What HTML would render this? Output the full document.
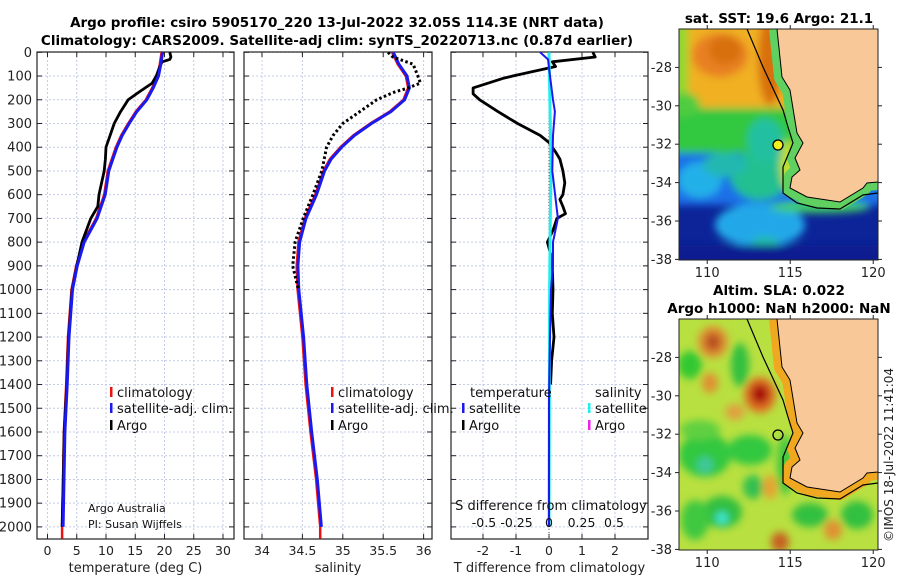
<!DOCTYPE html>
<html><head><meta charset="utf-8">
<style>
html,body{margin:0;padding:0;background:#fff;}
svg{display:block;font-family:"DejaVu Sans","Liberation Sans",sans-serif;}
</style></head>
<body>
<svg id="fig" width="900" height="580" viewBox="0 0 900 580" xmlns="http://www.w3.org/2000/svg">
<defs>
  <filter id="blur4" x="-20%" y="-20%" width="140%" height="140%"><feGaussianBlur stdDeviation="4"/></filter>
  <clipPath id="clipMap1"><rect x="679" y="29" width="199" height="231"/></clipPath>
  <clipPath id="clipMap2"><rect x="679" y="319" width="199" height="231"/></clipPath>
  <clipPath id="clipP1"><rect x="37" y="52" width="197" height="487"/></clipPath>
  <clipPath id="clipP2"><rect x="244" y="52" width="188" height="487"/></clipPath>
  <clipPath id="clipP3"><rect x="451" y="52" width="197" height="487"/></clipPath>
</defs>
<g font-weight="bold" font-size="13.5" text-anchor="middle" fill="#000">
  <text x="337" y="27">Argo profile: csiro 5905170_220 13-Jul-2022 32.05S 114.3E (NRT data)</text>
  <text x="337" y="45">Climatology: CARS2009. Satellite-adj clim: synTS_20220713.nc (0.87d earlier)</text>
  <text x="779" y="23">sat. SST: 19.6 Argo: 21.1</text>
  <text x="779" y="295">Altim. SLA: 0.022</text>
  <text x="779" y="313">Argo h1000: NaN h2000: NaN</text>
</g>
<g id="panels"></g>
<g id="maps"></g>
<text x="0" y="0" transform="translate(893,455) rotate(-90)" text-anchor="middle" font-size="12" fill="#222">©IMOS 18-Jul-2022 11:41:04</text>
</svg>
<script>
// ---------- data ----------
const depthTicks = [0,100,200,300,400,500,600,700,800,900,1000,1100,1200,1300,1400,1500,1600,1700,1800,1900,2000];
const tempTicks = [0,5,10,15,20,25,30];
const salTicks = [34,34.5,35,35.5,36];
const tdiffTicks = [-2,-1,0,1,2];
const sdiffTicks = [-0.5,-0.25,0,0.25,0.5];

const climDepth = [0,50,100,150,200,250,300,350,400,450,500,600,700,800,900,1000,1200,1400,1600,1800,2000,2050];
const climTemp  = [19.5,19.2,18.8,17.9,16.8,15.1,13.8,12.6,11.7,11.0,10.3,9.7,8.3,6.1,4.9,4.1,3.5,3.2,2.8,2.65,2.5,2.5];
const climSal   = [35.61,35.68,35.78,35.81,35.75,35.58,35.34,35.13,34.97,34.84,34.76,34.66,34.53,34.45,34.43,34.44,34.50,34.54,34.60,34.67,34.72,34.72];

const argoDepth = [0,20,30,40,60,100,130,150,170,200,250,300,350,400,450,500,600,650,700,800,900,1000,1200,1400,1600,1800,2000];
const argoTemp  = [20.9,21.1,20.9,19.6,19.2,18.6,17.9,16.7,15.5,13.8,12.5,11.4,10.7,10.0,9.9,9.7,8.8,8.6,7.4,5.9,5.0,4.2,3.6,3.3,2.85,2.7,2.5];

const argoSalDepth = [0,20,50,100,130,150,170,200,250,300,350,400,500,600,700,800,900,1000];
const argoSal      = [35.56,35.62,35.87,35.93,35.96,35.81,35.62,35.42,35.21,35.00,34.88,34.80,34.74,34.63,34.51,34.41,34.38,34.45];

const tdiffArgoDepth = [0,20,40,60,100,110,150,175,200,250,300,350,380,420,450,500,550,600,620,650,680,700,750,800,850,900,1000,1100,1200,1300,1400];
const tdiffArgo      = [1.33,1.4,0.1,0.2,-1.1,-1.4,-2.3,-2.3,-2.1,-1.55,-0.95,-0.27,0.0,0.2,0.33,0.42,0.48,0.42,0.33,0.42,0.5,0.24,0.12,-0.05,0.05,0.1,0.12,0.1,0.15,0.08,0.05];
const tdiffSatDepth = [0,30,100,200,250,350,500,700,800,900,1000,1200,1450,2000];
const tdiffSat      = [-0.27,-0.03,0.03,0.12,0.18,0.12,0.1,0.27,0.12,0.12,0.06,0.03,0.0,0.0];
const sdiffSatDepth = [0,300,500,700,1000,2000];
const sdiffSat      = [0,0.01,0.015,0.01,0.005,0];

// ---------- axes ----------
const Y0 = 52.3, KY = 0.2373, YB = 539;
function py(d){ return Y0 + d*KY; }
function axisT(v){ return 47.5 + v*5.85; }
function axisS(v){ return 262 + (v-34)*80.8; }
function axisTD(v){ return 549 + v*33; }
function axisSD(v){ return 549 + v*130; }

const NS = "http://www.w3.org/2000/svg";
function mk(tag, attrs, parent){
  const e = document.createElementNS(NS, tag);
  for (const k in attrs) e.setAttribute(k, attrs[k]);
  parent.appendChild(e); return e;
}
const panels = document.getElementById('panels');

function drawFrame(name, x0, x1, xticks, fx, xlabel, showDepthLabels){
  const g = mk('g', {}, panels);
  
  
  xticks.forEach(v => {
    const x = fx(v);
    const l = mk('line', {x1:x, x2:x, y1:52, y2:YB, stroke:'#c4cce6', 'stroke-width':1, 'stroke-dasharray':'2 2'}, g);
    
    
  });
  depthTicks.forEach(d => {
    const y = py(d);
    const l = mk('line', {x1:x0, x2:x1, y1:y, y2:y, stroke:'#c4cce6', 'stroke-width':1, 'stroke-dasharray':'2 2'}, g);
    
    
    mk('line', {x1:x0, x2:x0+5, y1:y, y2:y, stroke:'#222'}, g);
    mk('line', {x1:x1-5, x2:x1, y1:y, y2:y, stroke:'#222'}, g);
    if (showDepthLabels){
      const t = mk('text', {x:x0-5, y:y+4.5, 'text-anchor':'end', 'font-size':13, fill:'#222'}, g);
      t.textContent = d;
      
      
    }
  });
  xticks.forEach(v => {
    const x = fx(v);
    mk('line', {x1:x, x2:x, y1:YB, y2:YB-5, stroke:'#222'}, g);
    mk('line', {x1:x, x2:x, y1:52, y2:57, stroke:'#222'}, g);
    const t = mk('text', {x:x, y:555, 'text-anchor':'middle', 'font-size':12.5, fill:'#222'}, g);
    t.textContent = v;
    
    
  });
  const f = mk('rect', {x:x0, y:52, width:x1-x0, height:YB-52, fill:'none', stroke:'#222', 'stroke-width':1.2}, g);
  
  
  const xl = mk('text', {x:(x0+x1)/2, y:572, 'text-anchor':'middle', 'font-size':13, fill:'#222'}, g);
  xl.textContent = xlabel;
  
  
  return g;
}

function line(g, clip, depths, vals, fx, color, w, name, dash){
  const pts = depths.map((d,i) => fx(vals[i]).toFixed(1) + ',' + py(d).toFixed(1)).join(' ');
  const a = {points:pts, fill:'none', stroke:color, 'stroke-width':w, 'stroke-linejoin':'round', 'clip-path':'url(#'+clip+')'};
  if (dash) a['stroke-dasharray'] = dash;
  const p = mk('polyline', a, g);
  
  
}

function legend(g, x, y, color, label, name){
  mk('rect', {x:x, y:y-10, width:2.5, height:10, fill:color}, g);
  const t = mk('text', {x:x+7, y:y, 'font-size':13, fill:'#111'}, g);
  t.textContent = label;
  
  
}

// Panel 1
const g1 = drawFrame('temperature-panel', 37, 234, tempTicks, axisT, 'temperature (deg C)', true);
line(g1, 'clipP1', climDepth, climTemp, axisT, '#ee1111', 2.5, 'temp-climatology-line');
line(g1, 'clipP1', argoDepth, argoTemp, axisT, '#000', 2.8, 'temp-argo-line');
line(g1, 'clipP1', climDepth.slice(0,-1), climTemp.slice(0,-1), v=>axisT(v)+1, '#1a1aee', 3, 'temp-satellite-adj-line');
legend(g1, 110, 397, '#ee1111', 'climatology', 'legend-climatology');
legend(g1, 110, 413, '#1a1aee', 'satellite-adj. clim.', 'legend-satellite-adj');
legend(g1, 110, 430, '#000', 'Argo', 'legend-argo');
[['Argo Australia',512],['PI: Susan Wijffels',528]].forEach(([s,y])=>{
  const t = mk('text', {x:88, y:y, 'font-size':11, fill:'#111'}, g1);
  t.textContent = s;
  
  
});

// Panel 2
const g2 = drawFrame('salinity-panel', 244, 432, salTicks, axisS, 'salinity', false);
line(g2, 'clipP2', climDepth, climSal, axisS, '#ee1111', 2.5, 'sal-climatology-line');
line(g2, 'clipP2', climDepth.slice(0,-1), climSal.slice(0,-1), v=>axisS(v)+1.2, '#1a1aee', 3, 'sal-satellite-adj-line');
line(g2, 'clipP2', argoSalDepth, argoSal, axisS, '#000', 3, 'sal-argo-line', '2.5 2.5');
legend(g2, 331, 397, '#ee1111', 'climatology', 'legend-climatology');
legend(g2, 331, 413, '#1a1aee', 'satellite-adj. clim.', 'legend-satellite-adj');
legend(g2, 331, 430, '#000', 'Argo', 'legend-argo');

// Panel 3
const g3 = drawFrame('difference-panel', 451, 648, tdiffTicks, axisTD, 'T difference from climatology', false);
mk('line', {x1:549, x2:549, y1:52, y2:YB, stroke:'#555', 'stroke-width':1, 'stroke-dasharray':'1 2'}, g3);
line(g3, 'clipP3', tdiffArgoDepth, tdiffArgo, axisTD, '#000', 2.8, 'tdiff-argo-line');
line(g3, 'clipP3', sdiffSatDepth, sdiffSat, axisSD, '#22eeee', 3, 'sdiff-satellite-line');
line(g3, 'clipP3', tdiffSatDepth, tdiffSat, axisTD, '#1a1aee', 2, 'tdiff-satellite-line');
const lt = mk('text', {x:470, y:397, 'font-size':13, fill:'#111'}, g3); lt.textContent = 'temperature';


const ls = mk('text', {x:595, y:397, 'font-size':13, fill:'#111'}, g3); ls.textContent = 'salinity';


legend(g3, 462, 413, '#1a1aee', 'satellite', 'legend-temp-satellite');
legend(g3, 462, 430, '#000', 'Argo', 'legend-temp-argo');
legend(g3, 588, 413, '#22eeee', 'satellite', 'legend-sal-satellite');
legend(g3, 588, 430, '#ee22ee', 'Argo', 'legend-sal-argo');
const sl = mk('text', {x:551, y:510, 'text-anchor':'middle', 'font-size':13, fill:'#111'}, g3);
sl.textContent = 'S difference from climatology';


sdiffTicks.forEach(v => {
  const t = mk('text', {x:axisSD(v), y:527, 'text-anchor':'middle', 'font-size':12.5, fill:'#111'}, g3);
  t.textContent = v;
  
  
});

// ---------- maps ----------
const maps = document.getElementById('maps');
const lonTicks = [110,115,120];
const latTicks = [-28,-30,-32,-34,-36,-38];
function mx(lon){ return 679 + (lon-108.3)*16.6; }
function my(lat, top){ return top + (-26 - lat)*19.2; }

const coast = [[777,29],[782,77],[790,90],[797,133],[803,143],[795,158],[800,170],[792,177],[790,188],[807,197],[840,202],[863,188],[867,183],[878,182]];
const iso = [[747,29],[763,67],[783,110],[788,127],[793,143],[783,167],[783,193],[797,203],[817,208],[840,209],[863,195],[878,193]];

function pts(arr, dy){ return arr.map(p=>p[0]+','+(p[1]+dy)).join(' '); }

function drawMap(name, top, clip, blobs, base, bandColor){
  const g = mk('g', {}, maps);
  
  
  const dy = top - 29;
  const inner = mk('g', {'clip-path':'url(#'+clip+')'}, g);
  mk('rect', {x:679, y:top, width:199, height:231, fill:base}, inner);
  const bg = mk('g', {filter:'url(#blur4)'}, inner);
  blobs.forEach(b => {
    if (b[0]==='r') mk('rect', {x:b[1], y:b[2]+dy, width:b[3], height:b[4], fill:b[5]}, bg);
    else mk('ellipse', {cx:b[1], cy:b[2]+dy, rx:b[3], ry:b[4], fill:b[5]}, bg);
  });
  mk('polyline', {points: pts(coast,dy), fill:'none', stroke:bandColor, 'stroke-width':16, 'stroke-linejoin':'round'}, inner);
  const lp = mk('polygon', {points: pts(coast,dy) + ' 878,'+top+' 777,'+top, fill:'#f8c898', stroke:'#000', 'stroke-width':1}, inner);
  
  
  const ib = mk('polyline', {points: pts(iso,dy), fill:'none', stroke:'#000', 'stroke-width':1.2}, inner);
  
  
  const c = mk('circle', {cx:778, cy:145+dy, r:5, fill: top===29?'#f0f020':'none', stroke:'#000', 'stroke-width':1.3}, inner);
  
  
  mk('rect', {x:679, y:top, width:199, height:231, fill:'none', stroke:'#222', 'stroke-width':1}, g);
  latTicks.forEach(lat => {
    const y = my(lat, top);
    mk('line', {x1:679, x2:675, y1:y, y2:y, stroke:'#222'}, g);
    mk('line', {x1:878, x2:882, y1:y, y2:y, stroke:'#222'}, g);
    const t = mk('text', {x:672, y:y+4.5, 'text-anchor':'end', 'font-size':13, fill:'#222'}, g);
    t.textContent = lat;
    
    
  });
  lonTicks.forEach(lon => {
    const x = mx(lon);
    mk('line', {x1:x, x2:x, y1:top+231, y2:top+235, stroke:'#222'}, g);
    mk('line', {x1:x, x2:x, y1:top, y2:top-4, stroke:'#222'}, g);
    const t = mk('text', {x:x, y:top+248, 'text-anchor':'middle', 'font-size':13, fill:'#222'}, g);
    t.textContent = lon;
    
    
  });
}

const sstBlobs = [
  ['r',660,150,240,55,'#1a70e8'],
  ['e',760,225,45,22,'#20a8e8'],
  ['e',700,180,22,18,'#22b0e8'],
  ['e',760,175,30,25,'#20c090'],
  ['e',725,165,22,12,'#20b8b0'],
  ['e',765,245,14,8,'#20c0a0'],
  ['r',660,105,140,48,'#30c840'],
  ['e',765,140,18,22,'#20c0a0'],
  ['e',788,165,8,25,'#c0e020'],
  ['r',660,10,140,98,'#f0b020'],
  ['r',660,10,28,100,'#90d830'],
  ['e',685,105,15,12,'#50cc40'],
  ['e',720,55,28,22,'#e88020'],
  ['e',725,50,16,14,'#d87010'],
  ['e',770,60,12,45,'#d87010'],
  ['e',820,207,50,6,'#40d060'],
  ['r',660,245,240,30,'#0c1e90']
];
drawMap('sst-map', 29, 'clipMap1', sstBlobs, '#0c2498', '#60d060');

const slaBlobs = [
  ['e',690,75,12,14,'#30c830'],
  ['e',740,75,9,22,'#30c040'],
  ['e',713,52,15,16,'#e09030'],
  ['e',713,52,8,9,'#b85020'],
  ['e',710,93,8,10,'#e09030'],
  ['e',760,105,16,18,'#e07020'],
  ['e',760,104,9,10,'#a81010'],
  ['e',735,122,10,8,'#e0a040'],
  ['e',705,165,26,22,'#30c840'],
  ['e',750,160,22,15,'#30c840'],
  ['e',700,140,20,10,'#60d040'],
  ['e',705,175,8,8,'#40c8a0'],
  ['e',753,197,10,12,'#30c050'],
  ['e',722,222,20,16,'#30c040'],
  ['e',722,228,6,6,'#40e8d8'],
  ['e',810,225,18,12,'#30c040'],
  ['e',857,225,16,14,'#30c040'],
  ['e',833,240,9,10,'#e09030'],
  ['e',780,252,9,10,'#c86020'],
  ['e',770,197,7,12,'#e8a030'],
  ['e',695,230,14,20,'#40c840'],
  ['e',785,175,8,30,'#40c840']
];
drawMap('sla-map', 319, 'clipMap2', slaBlobs, '#b8e040', '#f0a820');
</script>
</body></html>
